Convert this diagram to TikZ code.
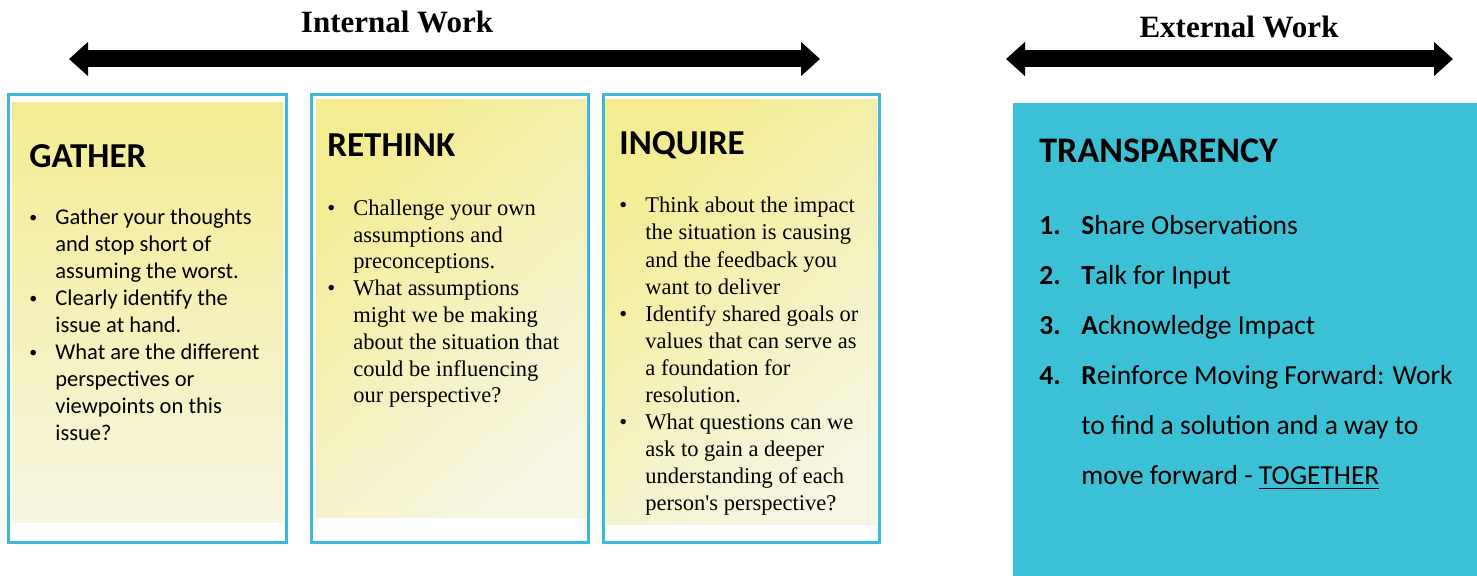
\documentclass[tikz,border=0pt]{standalone}
\usepackage{fontspec}
\usepackage{graphicx}
\setmainfont{Liberation Serif}
\setsansfont{Carlito}
\usetikzlibrary{arrows.meta}

\definecolor{frameblue}{HTML}{3DB8D8}
\definecolor{tealfill}{HTML}{3BC0D5}
\definecolor{noteyellow}{HTML}{F4EC93}
\definecolor{notemid}{HTML}{F5F0B8}
\definecolor{notepale}{HTML}{F6F6E2}

\newcommand{\bulletbox}[1]{\makebox[#1][l]{\textbullet}}
\newcommand{\smallbulletbox}[1]{\makebox[#1][l]{\raisebox{0.12em}{\scalebox{0.7}{\textbullet}}}}

\tikzset{
  x=0.5pt, y=-0.5pt,
  bigarrow/.style={line width=8.5pt,
    {Triangle[length=9.5pt,width=16.5pt]}-{Triangle[length=9.5pt,width=16.5pt]}},
  framebox/.style={draw=frameblue, line width=1.5pt},
  headline/.style={font=\bfseries\fontsize{15.5pt}{18pt}\selectfont, inner sep=0pt, anchor=base},
  cardtitle/.style={font=\sffamily\bfseries\fontsize{17.5pt}{21pt}\selectfont, inner sep=0pt, anchor=base west},
  % multi-line lists are anchored at the baseline of their last line
  sanslist/.style={font=\sffamily\fontsize{11.25pt}{13.5pt}\selectfont, inner sep=0pt, anchor=base west, align=left},
  seriflist/.style={font=\fontsize{11.25pt}{13.4pt}\selectfont, inner sep=0pt, anchor=base west, align=left},
  steplist/.style={font=\sffamily\fontsize{13.75pt}{25pt}\selectfont, inner sep=0pt, anchor=base west, align=left},
}

\begin{document}
\begin{tikzpicture}
\useasboundingbox[fill=white] (0,0) rectangle (1477,576);

% --- headings and their double arrows ---
\node[headline] (internal) at (397,33) {Internal Work};
\coordinate (inL) at (69,59);
\coordinate (inR) at (820,59);
\draw[bigarrow] (inL) -- (inR);

\node[headline] (external) at (1239,38) {External Work};
\coordinate (exL) at (1006,59);
\coordinate (exR) at (1453,59);
\draw[bigarrow] (exL) -- (exR);

% --- sticky-note cards ---
\shade[top color=noteyellow, bottom color=notepale, middle color=notemid] (12,103) rectangle (283,523);
\draw[framebox] (8.5,95) rectangle (286.5,543);

\shade[top color=noteyellow, bottom color=notepale, shading angle=40] (316,100) rectangle (587,518);
\draw[framebox] (311,95) rectangle (588,543);

\shade[top color=noteyellow, bottom color=notepale, shading angle=40] (605,100) rectangle (877,525);
\draw[framebox] (603,95) rectangle (879,543);

% --- transparency panel ---
\fill[tealfill] (1013,103) rectangle (1477,576);

% --- card titles ---
\node[cardtitle] (gather) at (29,168) {GATHER};
\node[cardtitle] (rethink) at (327,157) {RETHINK};
\node[cardtitle] (inquire) at (619,155) {INQUIRE};
\node[cardtitle, font=\sffamily\bfseries\fontsize{18pt}{21pt}\selectfont] (transparency) at (1039,163) {TRANSPARENCY};

% --- card contents ---
\node[sanslist] (gatherlist) at (29,441) {%
\smallbulletbox{13pt}Gather your thoughts\\
\hspace*{13pt}and stop short of\\
\hspace*{13pt}assuming the worst.\\
\smallbulletbox{13pt}Clearly identify the\\
\hspace*{13pt}issue at hand.\\
\smallbulletbox{13pt}What are the different\\
\hspace*{13pt}perspectives or\\
\hspace*{13pt}viewpoints on this\\
\hspace*{13pt}issue?};

\node[seriflist] (rethinklist) at (327,403) {%
\bulletbox{13pt}Challenge your own\\
\hspace*{13pt}assumptions and\\
\hspace*{13pt}preconceptions.\\
\bulletbox{13pt}What assumptions\\
\hspace*{13pt}might we be making\\
\hspace*{13pt}about the situation that\\
\hspace*{13pt}could be influencing\\
\hspace*{13pt}our perspective?};

\node[seriflist, font=\fontsize{11.25pt}{13.55pt}\selectfont] (inquirelist) at (619,511) {%
\bulletbox{13pt}Think about the impact\\
\hspace*{13pt}the situation is causing\\
\hspace*{13pt}and the feedback you\\
\hspace*{13pt}want to deliver\\
\bulletbox{13pt}Identify shared goals or\\
\hspace*{13pt}values that can serve as\\
\hspace*{13pt}a foundation for\\
\hspace*{13pt}resolution.\\
\bulletbox{13pt}What questions can we\\
\hspace*{13pt}ask to gain a deeper\\
\hspace*{13pt}understanding of each\\
\hspace*{13pt}person\textquotesingle s perspective?};

\node[steplist] (steps) at (1039,485) {%
\makebox[21pt][l]{\textbf{1.}}\textbf{S}hare Observations\\
\makebox[21pt][l]{\textbf{2.}}\textbf{T}alk for Input\\
\makebox[21pt][l]{\textbf{3.}}\textbf{A}cknowledge Impact\\
\makebox[21pt][l]{\textbf{4.}}\textbf{R}einforce Moving Forward: Work\\
\hspace*{21pt}to find a solution and a way to\\
\hspace*{21pt}move forward - \underline{TOGETHER}};
\end{tikzpicture}
\end{document}
